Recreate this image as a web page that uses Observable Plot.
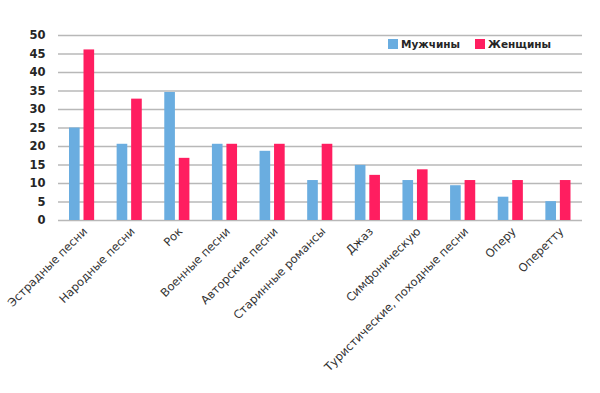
<!DOCTYPE html>
<html><head><meta charset="utf-8">
<script src="https://cdn.jsdelivr.net/npm/d3@7"></script>
<script src="https://cdn.jsdelivr.net/npm/@observablehq/plot@0.6"></script>
<style>
body{margin:0;background:#fff;font-family:"DejaVu Sans",sans-serif}
#wrap{position:relative;width:600px;height:393px;overflow:hidden}
.legend{position:absolute;top:39px;left:388px;display:flex;align-items:center;font-weight:bold;font-size:10.5px;color:#262626;line-height:10px}
.legend .item{display:flex;align-items:center;margin-right:15px}
.legend .sw{width:10px;height:10px;margin-right:3px}
</style></head><body><div id="wrap"></div><script>
const categories = ["Эстрадные песни","Народные песни","Рок","Военные песни","Авторские песни","Старинные романсы","Джаз","Симфоническую","Туристические, походные песни","Оперу","Оперетту"];
const men   = [25.0, 20.6, 34.6, 20.6, 18.7, 10.8, 14.9, 10.8, 9.4, 6.3, 5.1];
const women = [46.1, 32.8, 16.8, 20.6, 20.6, 20.6, 12.2, 13.7, 10.8, 10.8, 10.8];
const series = ["Мужчины","Женщины"];
const colors = ["#6aade0","#ff1e60"];
const yTicks = [0,5,10,15,20,25,30,35,40,45,50];

const menData = categories.map((c,i)=>({category:c, sex:series[0], value:men[i]}));
const womenData = categories.map((c,i)=>({category:c, sex:series[1], value:women[i]}));

const chart = Plot.plot({
  width:600, height:393,
  marginLeft:58, marginRight:18, marginTop:35, marginBottom:173,
  style:{fontFamily:"DejaVu Sans, sans-serif", background:"#fff", color:"#262626"},
  x:{domain:categories, padding:0, round:false, label:null},
  y:{domain:[0,50], label:null},
  color:{domain:series, range:colors},
  marks:[
    Plot.gridY(yTicks,{stroke:"#b8b8b8", strokeOpacity:1, strokeWidth:1.5}),
    Plot.barY(menData,{x:"category", y:"value", fill:"sex", insetLeft:11, insetRight:26}),
    Plot.barY(womenData,{x:"category", y:"value", fill:"sex", insetLeft:25.5, insetRight:11.5}),
    Plot.axisY(yTicks,{tickSize:0, tickPadding:13, fontWeight:"bold", fontSize:11.5, label:null}),
    Plot.axisX({tickSize:0, tickPadding:9, tickRotate:-45, fontSize:11.5, label:null, dx:3, fill:"#333"})
  ]
});
const wrap = document.getElementById("wrap");
wrap.appendChild(chart);
const leg = document.createElement("div");
leg.className = "legend";
series.forEach((s,i)=>{
  const it = document.createElement("div"); it.className="item";
  const sw = document.createElement("span"); sw.className="sw"; sw.style.background=colors[i];
  const tx = document.createElement("span"); tx.textContent = s;
  it.appendChild(sw); it.appendChild(tx); leg.appendChild(it);
});
wrap.appendChild(leg);
</script></body></html>
